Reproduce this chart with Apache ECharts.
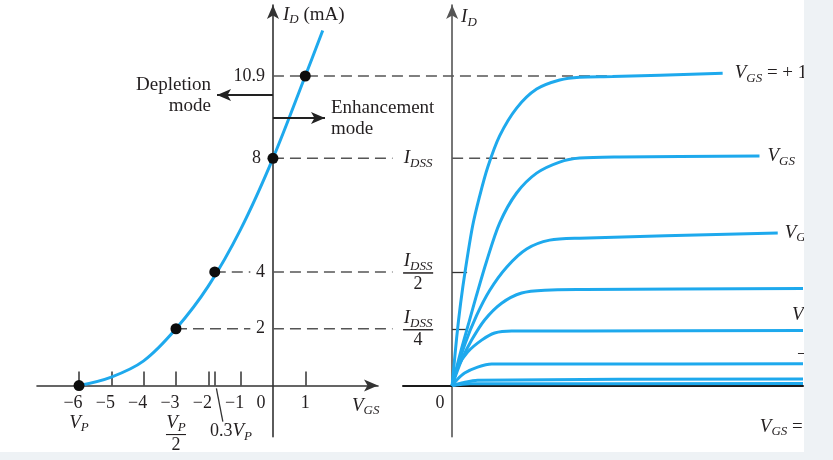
<!DOCTYPE html>
<html><head><meta charset="utf-8">
<script src="https://cdn.jsdelivr.net/npm/echarts@6/dist/echarts.min.js"></script>
<style>
html,body{margin:0;padding:0;background:#eef2f5;width:833px;height:460px;overflow:hidden}
#c{width:804px;height:452px;background:#ffffff}
</style></head><body><div id="c"></div>
<script>
// ---------- Transfer characteristic (left): VGS (V) -> ID (mA) ----------
const transferVgs = [-6, -5, -4, -3, -2, -1, 0, 1, 1.54];
const transferId  = [0, 0.3, 0.87, 2, 3.5, 5.5, 8, 10.9, 12.5];
const markedVgs = [-6, -3, -1.8, 0, 1];
const markedId  = [0, 2, 4, 8, 10.9];
const vgsTickValues  = [-6, -5, -4, -3, -2, -1.8, -1, 1];
const vgsLabelValues = [-6, -5, -4, -3, -2, -1, 0, 1];
const idLabelValues  = [2, 4, 8, 10.9];
const idssLabelValues = [2, 4, 8];
const idssTickValues  = [2, 4];
// dashed guide lines (VGS scale, may run across both panels)
const guideFromVgs = [-3, 0, -1.8, 0, 0, 0];
const guideToVgs   = [-0.7, 3.7, -0.7, 3.7, 3.7, 10.52];
const guideLevel   = [2, 2, 4, 4, 8, 10.9];
// dashed IDSS guide inside the drain panel
const drainGuideVds = [0, 35.6];
const drainGuideId  = 8;

// ---------- Drain characteristics (right): VDS (arb.) -> ID (mA) ----------
const vdsP1 = [0, 1.28, 2.42, 3.85, 5.84, 7.84, 10.12, 13.54, 18.38, 24.08, 30.64, 36.34, 45.7, 77.1];
const idP1  = [0, 1.67, 2.90, 4.14, 5.62, 6.67, 7.68, 8.79, 9.77, 10.44, 10.76, 10.86, 10.88, 11.0];
const vds0  = [0, 2.42, 4.99, 6.98, 9.83, 13.54, 18.38, 24.08, 30.64, 36.34, 47.7, 87.6];
const id0   = [0, 1.18, 2.31, 3.19, 4.38, 5.72, 6.78, 7.48, 7.87, 8.01, 8.05, 8.08];
const vdsM1 = [0, 3.56, 6.98, 10.69, 15.53, 21.23, 27.79, 36.34, 92.8];
const idM1  = [0, 1.43, 2.47, 3.35, 4.17, 4.81, 5.12, 5.19, 5.37];
const vdsM2 = [0, 2.71, 5.56, 9.26, 14.1, 19.8, 26.4, 37.8, 100];
const idM2  = [0, 0.90, 1.60, 2.31, 2.90, 3.26, 3.36, 3.38, 3.42];
const vdsM3 = [0, 1.57, 4.42, 8.41, 12.1, 16.97, 37.8, 100];
const idM3  = [0, 0.65, 1.18, 1.60, 1.85, 1.92, 1.92, 1.94];
const vdsM4 = [0, 1.28, 3.56, 7.27, 11.26, 37.8, 100];
const idM4  = [0, 0.19, 0.44, 0.65, 0.76, 0.76, 0.77];
const vdsM5 = [0, 2.71, 7.27, 100];
const idM5  = [0, 0.09, 0.19, 0.23];
const vdsM6 = [0, 5, 100];
const idM6  = [0, 0.06, 0.07];

const SERIF = "'Liberation Serif','DejaVu Serif',serif";
const TXT = '#231f20';
const BLUE = '#1ea9ed';
const DASH = '#555555';

const RICH = {
  t:  {fontFamily: SERIF, fontSize: 18, color: TXT, lineHeight: 18},
  e:  {fontFamily: SERIF, fontSize: 18, color: TXT, lineHeight: 18, padding: [0, 4, 0, 0]},
  n:  {fontFamily: SERIF, fontSize: 18, color: TXT, lineHeight: 18, padding: [0, 12, 0, 0]},
  z:  {fontFamily: SERIF, fontSize: 18, color: TXT, lineHeight: 18, padding: [0, 24, 0, 0]},
  b:  {fontFamily: SERIF, fontSize: 19, color: TXT, lineHeight: 21},
  it: {fontFamily: SERIF, fontSize: 19, fontStyle: 'italic', color: TXT, lineHeight: 20},
  sb: {fontFamily: SERIF, fontSize: 13, fontStyle: 'italic', color: TXT, lineHeight: 20, verticalAlign: 'top', padding: [9, 0, 0, 0]},
  hr: {width: 20, height: 0, borderWidth: 1, borderColor: TXT, lineHeight: 4},
  hr2:{width: 30, height: 0, borderWidth: 1, borderColor: TXT, lineHeight: 4}
};

function zip(a, b) { return a.map((v, i) => [v, b[i]]); }

function vgsLabel(v) {
  if (v === 0) return '{z|0}';
  if (v === -6) return '{n|−6}\n{it|V}{sb|P}';
  if (v === -3) return '{n|−3}\n{it|V}{sb|P}\n{hr|}\n{t|2}';
  if (v < 0) return '{n|−' + (-v) + '}';
  return '{t|' + v + '}';
}
function idLabel(v) {
  return v === 8 ? '{e|8}' : '{t|' + v + '}';
}
function idssLabel(v) {
  if (v === 8) return '{it|I}{sb|DSS}';
  return '{it|I}{sb|DSS}\n{hr2|}\n{t|' + (8 / v) + '}';
}

// layout (pixels)
const Y_MIN = -1.8, Y_MAX = 13.4, PX_PER_MA = 28.4;
const GRID_TOP = 5, GRID_H = (Y_MAX - Y_MIN) * PX_PER_MA;
const X_AXIS_OFFSET = -Y_MIN * PX_PER_MA;
const LEFT_GRID = {left: 37, width: 341, min: -7.3, max: 3.25};
const RIGHT_GRID = {left: 403, width: 400, min: -14, max: 100};
const PX_PER_V = LEFT_GRID.width / (LEFT_GRID.max - LEFT_GRID.min);
const OVERLAY_W = 767;
const LEFT_Y_OFFSET = -LEFT_GRID.width * (0 - LEFT_GRID.min) / (LEFT_GRID.max - LEFT_GRID.min);
const RIGHT_Y_OFFSET = -RIGHT_GRID.width * (0 - RIGHT_GRID.min) / (RIGHT_GRID.max - RIGHT_GRID.min);

const series = [];
guideLevel.forEach((lvl, i) => {
  series.push({
    type: 'line', xAxisIndex: 2, yAxisIndex: 2, silent: true,
    symbol: 'none', z: 1,
    lineStyle: {color: DASH, width: 1.5, type: [11, 6]},
    data: [[guideFromVgs[i], lvl], [guideToVgs[i], lvl]]
  });
});
series.push({
  type: 'line', xAxisIndex: 1, yAxisIndex: 1, silent: true,
  symbol: 'none', z: 1,
  lineStyle: {color: DASH, width: 1.5, type: [11, 6]},
  data: [[drainGuideVds[0], drainGuideId], [drainGuideVds[1], drainGuideId]]
});
series.push({
  type: 'line', xAxisIndex: 0, yAxisIndex: 0, clip: false,
  data: zip(transferVgs, transferId), smooth: 0.35, symbol: 'none', z: 3,
  lineStyle: {color: BLUE, width: 3},
  markLine: {
    silent: true, animation: false, symbol: ['none', 'arrow'], symbolSize: [9, 14],
    lineStyle: {color: '#222', width: 2, type: 'solid'},
    label: {show: true, position: 'end', distance: 6, formatter: p => p.name, padding: [5, 0, 0, 0],
            fontFamily: SERIF, fontSize: 19, color: TXT, lineHeight: 21},
    data: [
      [{name: 'Depletion\nmode', coord: [0, 10.23]}, {coord: [-1.73, 10.23]}],
      [{name: 'Enhancement\nmode', coord: [0, 9.42]}, {coord: [1.61, 9.42]}]
    ]
  }
});
series.push({
  type: 'scatter', xAxisIndex: 0, yAxisIndex: 0, z: 5,
  data: zip(markedVgs, markedId), symbolSize: 11,
  itemStyle: {color: '#0d0d0d', opacity: 1},
  markLine: {
    silent: true, symbol: 'none', animation: false,
    lineStyle: {color: '#333', width: 1.3, type: 'solid'},
    label: {show: false},
    data: [[{coord: [-1.75, -0.1]}, {coord: [-1.55, -1.27]}]]
  },
  markPoint: {
    silent: true, animation: false, symbol: 'circle', symbolSize: 0,
    label: {show: true, position: 'inside', formatter: '{t|0.3}{it|V}{sb|P}', rich: RICH},
    data: [{coord: [-1.3, -1.6]}]
  }
});
const drainSets = [
  [vdsP1, idP1, '{it|V}{sb|GS}{b| = + 1 V}', 12],
  [vds0, id0, '{it|V}{sb|GS}{b|  = 0 V}', 8],
  [vdsM1, idM1, '{it|V}{sb|GS}{b| = −1 V}', 7],
  [vdsM2, idM2, null, 0],
  [vdsM3, idM3, null, 0],
  [vdsM4, idM4, null, 0],
  [vdsM5, idM5, null, 0],
  [vdsM6, idM6, null, 0]
];
const extraLabels = {
  3: {coord: [96.9, 2.49], text: '{it|V}{sb|GS}{b| = −2 V}'},
  4: {coord: [98.3, 1.08], text: '{b|−3 V}'},
  7: {coord: [87.7, -1.46], text: '{it|V}{sb|GS}{b| = −6 V = }{it|V}{sb|P}'}
};
drainSets.forEach((s, i) => {
  const o = {
    type: 'line', xAxisIndex: 1, yAxisIndex: 1, clip: false,
    data: zip(s[0], s[1]), smooth: 0.3, symbol: 'none', z: 3,
    lineStyle: {color: BLUE, width: 3}
  };
  if (s[2]) o.endLabel = {show: true, distance: s[3], formatter: s[2], rich: RICH};
  if (extraLabels[i]) {
    o.markPoint = {
      silent: true, animation: false, symbol: 'circle', symbolSize: 0,
      label: {show: true, position: 'right', distance: 0, formatter: extraLabels[i].text, rich: RICH},
      data: [{coord: extraLabels[i].coord}]
    };
  }
  series.push(o);
});

const chart = echarts.init(document.getElementById('c'), null, {renderer: 'canvas'});
chart.setOption({
  animation: false,
  backgroundColor: '#ffffff',
  grid: [
    {left: LEFT_GRID.left, top: GRID_TOP, width: LEFT_GRID.width, height: GRID_H, containLabel: false, outerBoundsMode: 'none'},
    {left: RIGHT_GRID.left, top: GRID_TOP, width: RIGHT_GRID.width, height: GRID_H, containLabel: false, outerBoundsMode: 'none'},
    {left: LEFT_GRID.left, top: GRID_TOP, width: OVERLAY_W, height: GRID_H, containLabel: false, outerBoundsMode: 'none'}
  ],
  xAxis: [
    {
      gridIndex: 0, type: 'value', min: LEFT_GRID.min, max: LEFT_GRID.max, position: 'bottom', offset: -X_AXIS_OFFSET,
      axisLine: {onZero: false, symbol: ['none', 'arrow'], symbolSize: [9, 14], lineStyle: {color: '#333', width: 1.6}},
      axisTick: {show: true, inside: true, length: 14, customValues: vgsTickValues, lineStyle: {color: '#333', width: 1.5}},
      axisLabel: {show: true, customValues: vgsLabelValues, formatter: vgsLabel, rich: RICH, margin: 9},
      splitLine: {show: false},
      name: '{it|V}{sb|GS}', nameLocation: 'end', nameGap: -26, nameMoveOverlap: false,
      nameTextStyle: {align: 'left', verticalAlign: 'top', padding: [10, 0, 0, 0], rich: RICH}
    },
    {
      gridIndex: 1, type: 'value', min: RIGHT_GRID.min, max: RIGHT_GRID.max, position: 'bottom', offset: -X_AXIS_OFFSET,
      axisLine: {onZero: false, lineStyle: {color: '#1a1a1a', width: 2}},
      axisTick: {show: false},
      axisLabel: {show: true, customValues: [0], formatter: () => '{z|0}', rich: RICH, margin: 9},
      splitLine: {show: false}
    },
    {
      gridIndex: 2, type: 'value', show: false, min: LEFT_GRID.min, max: LEFT_GRID.min + OVERLAY_W / PX_PER_V,
      splitLine: {show: false}
    }
  ],
  yAxis: [
    {
      gridIndex: 0, type: 'value', min: Y_MIN, max: Y_MAX, position: 'left', offset: LEFT_Y_OFFSET,
      axisLine: {onZero: false, symbol: ['none', 'arrow'], symbolSize: [9, 14], lineStyle: {color: '#333', width: 1.6}},
      axisTick: {show: false},
      axisLabel: {show: true, customValues: idLabelValues, formatter: idLabel, rich: RICH, margin: 8},
      splitLine: {show: false},
      name: '{it|I}{sb|D}{b| (mA)}', nameLocation: 'end', nameGap: -10, nameMoveOverlap: false,
      nameTextStyle: {align: 'left', verticalAlign: 'middle', padding: [0, 0, 0, 10], rich: RICH}
    },
    {
      gridIndex: 1, type: 'value', min: Y_MIN, max: Y_MAX, position: 'left', offset: RIGHT_Y_OFFSET,
      axisLine: {onZero: false, symbol: ['none', 'arrow'], symbolSize: [9, 14], lineStyle: {color: '#555', width: 1.6}},
      axisTick: {show: true, inside: true, length: 15, customValues: idssTickValues, lineStyle: {color: '#333', width: 1.3}},
      axisLabel: {show: true, customValues: idssLabelValues, formatter: idssLabel, rich: RICH, margin: 34, align: 'center'},
      splitLine: {show: false},
      name: '{it|I}{sb|D}', nameLocation: 'end', nameGap: -12, nameMoveOverlap: false,
      nameTextStyle: {align: 'left', verticalAlign: 'middle', padding: [0, 0, 0, 9], rich: RICH}
    },
    {
      gridIndex: 2, type: 'value', show: false, min: Y_MIN, max: Y_MAX,
      splitLine: {show: false}
    }
  ],
  series: series
});
</script></body></html>
